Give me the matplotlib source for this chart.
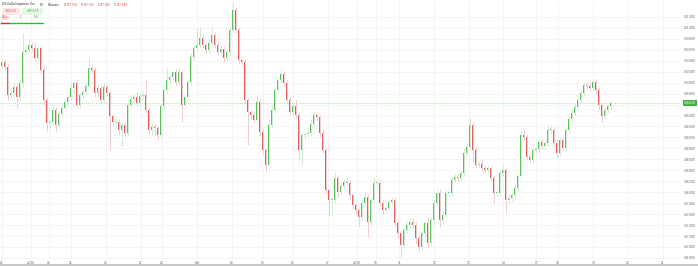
import matplotlib
matplotlib.use("Agg")
import matplotlib.pyplot as plt
from matplotlib.patches import Rectangle
from matplotlib.lines import Line2D

# hourly-ish closes, left to right
closes = [
    150.38, 150.29, 149.77, 149.81, 149.92, 149.74, 149.99, 150.56, 150.60, 150.69,
    150.63, 150.45, 150.63, 150.23, 149.68, 149.26, 149.28, 149.50, 149.23, 149.43,
    149.54, 149.65, 149.74, 149.90, 149.99, 149.59, 149.77, 149.83, 149.94, 150.27,
    150.23, 149.81, 149.90, 149.68, 149.92, 149.81, 149.39, 149.28, 149.28, 149.14,
    149.23, 149.08, 149.59, 149.70, 149.74, 149.63, 149.76, 149.77, 149.50, 149.14,
    149.19, 149.17, 149.04, 149.57, 149.87, 150.05, 150.10, 150.19, 150.01, 150.19,
    149.59, 149.74, 150.01, 150.47, 150.63, 150.69, 150.82, 150.69, 150.60, 150.72,
    150.87, 150.69, 150.56, 150.61, 150.45, 150.56, 150.96, 151.33, 150.96, 150.41,
    150.38, 149.68, 149.46, 149.41, 149.32, 149.65, 149.10, 148.77, 148.50, 149.23,
    149.50, 149.87, 150.05, 150.16, 149.99, 149.68, 149.46, 149.57, 149.41, 148.77,
    149.04, 149.06, 149.08, 149.25, 149.41, 149.37, 149.08, 148.77, 148.04, 147.86,
    147.86, 148.26, 148.00, 148.11, 148.19, 148.17, 147.95, 147.77, 147.67, 147.55,
    147.80, 147.91, 147.46, 147.86, 148.17, 148.17, 147.80, 147.67, 147.71, 147.82,
    147.86, 147.44, 147.25, 147.04, 147.31, 147.40, 147.46, 147.40, 147.16, 147.00,
    147.25, 147.44, 147.07, 147.49, 147.80, 147.99, 147.49, 147.58, 147.99, 147.99,
    148.22, 148.28, 148.26, 148.35, 148.72, 148.83, 149.23, 148.77, 148.50, 148.52,
    148.44, 148.41, 148.44, 148.26, 147.99, 147.99, 148.35, 148.41, 147.86, 147.89,
    147.95, 148.08, 148.30, 149.04, 149.01, 148.64, 148.59, 148.77, 148.79, 148.92,
    148.84, 148.90, 149.14, 149.14, 148.90, 148.72, 148.95, 148.81, 149.14, 149.34,
    149.45, 149.56, 149.68, 149.81, 149.96, 149.94, 149.90, 150.01, 149.87, 149.59,
    149.39, 149.50, 149.57, 149.63,
]
first_open = 150.30

upper_wick = [
    0.05, 0.04, 0.06, 0.05, 0.08, 0.05, 0.06, 0.35, 0.08, 0.10,
    0.06, 0.12, 0.05, 0.04, 0.05, 0.06, 0.04, 0.08, 0.05, 0.06,
    0.05, 0.06, 0.04, 0.08, 0.05, 0.07, 0.06, 0.05, 0.06, 0.20,
    0.06, 0.05, 0.08, 0.05, 0.10, 0.06, 0.05, 0.04, 0.06, 0.05,
    0.06, 0.05, 0.12, 0.08, 0.06, 0.10, 0.05, 0.07, 0.28, 0.05,
    0.06, 0.05, 0.04, 0.06, 0.08, 0.22, 0.06, 0.05, 0.06, 0.08,
    0.05, 0.06, 0.05, 0.08, 0.06, 0.30, 0.20, 0.05, 0.06, 0.08,
    0.15, 0.06, 0.05, 0.08, 0.06, 0.05, 0.08, 0.14, 0.05, 0.06,
    0.05, 0.06, 0.04, 0.05, 0.08, 0.10, 0.05, 0.04, 0.06, 0.10,
    0.08, 0.06, 0.05, 0.10, 0.06, 0.05, 0.06, 0.08, 0.12, 0.06,
    0.05, 0.06, 0.05, 0.08, 0.06, 0.05, 0.04, 0.06, 0.05, 0.04,
    0.05, 0.10, 0.06, 0.05, 0.06, 0.08, 0.05, 0.04, 0.06, 0.05,
    0.06, 0.08, 0.05, 0.06, 0.10, 0.05, 0.06, 0.05, 0.04, 0.06,
    0.05, 0.06, 0.04, 0.05, 0.06, 0.05, 0.08, 0.06, 0.05, 0.06,
    0.05, 0.06, 0.08, 0.05, 0.06, 0.05, 0.06, 0.08, 0.05, 0.06,
    0.05, 0.06, 0.05, 0.06, 0.08, 0.06, 0.12, 0.05, 0.06, 0.05,
    0.06, 0.05, 0.06, 0.04, 0.05, 0.06, 0.05, 0.08, 0.05, 0.06,
    0.05, 0.06, 0.05, 0.06, 0.10, 0.05, 0.06, 0.05, 0.06, 0.05,
    0.06, 0.05, 0.08, 0.06, 0.05, 0.06, 0.05, 0.06, 0.05, 0.06,
    0.05, 0.06, 0.05, 0.06, 0.05, 0.06, 0.08, 0.05, 0.06, 0.05,
    0.06, 0.05, 0.04, 0.05,
]
lower_wick = [
    0.05, 0.06, 0.08, 0.05, 0.06, 0.20, 0.05, 0.06, 0.05, 0.04,
    0.05, 0.06, 0.05, 0.06, 0.08, 0.15, 0.10, 0.06, 0.12, 0.05,
    0.06, 0.05, 0.06, 0.05, 0.10, 0.06, 0.05, 0.06, 0.05, 0.04,
    0.06, 0.08, 0.05, 0.06, 0.05, 0.06, 0.62, 0.08, 0.06, 0.10,
    0.30, 0.08, 0.05, 0.06, 0.05, 0.06, 0.05, 0.06, 0.05, 0.08,
    0.10, 0.12, 0.08, 0.05, 0.06, 0.05, 0.06, 0.05, 0.06, 0.05,
    0.30, 0.06, 0.05, 0.06, 0.05, 0.04, 0.05, 0.06, 0.05, 0.06,
    0.05, 0.06, 0.05, 0.06, 0.08, 0.05, 0.06, 0.05, 0.06, 0.05,
    0.06, 0.05, 0.60, 0.08, 0.06, 0.05, 0.08, 0.06, 0.13, 0.06,
    0.05, 0.06, 0.05, 0.06, 0.05, 0.06, 0.05, 0.06, 0.05, 0.18,
    0.25, 0.06, 0.05, 0.06, 0.05, 0.06, 0.08, 0.06, 0.08, 0.30,
    0.30, 0.06, 0.08, 0.05, 0.06, 0.05, 0.06, 0.08, 0.06, 0.19,
    0.06, 0.05, 0.28, 0.08, 0.05, 0.06, 0.05, 0.06, 0.05, 0.06,
    0.05, 0.06, 0.08, 0.22, 0.06, 0.05, 0.06, 0.05, 0.08, 0.10,
    0.06, 0.05, 0.09, 0.06, 0.05, 0.06, 0.13, 0.06, 0.05, 0.06,
    0.05, 0.06, 0.05, 0.06, 0.05, 0.06, 0.05, 0.24, 0.06, 0.05,
    0.06, 0.05, 0.06, 0.05, 0.19, 0.06, 0.05, 0.06, 0.24, 0.06,
    0.05, 0.06, 0.05, 0.06, 0.05, 0.06, 0.05, 0.06, 0.05, 0.06,
    0.05, 0.06, 0.05, 0.06, 0.05, 0.10, 0.06, 0.05, 0.06, 0.05,
    0.06, 0.05, 0.06, 0.05, 0.06, 0.05, 0.06, 0.05, 0.06, 0.08,
    0.11, 0.06, 0.05, 0.06,
]

# date labels along the bottom, placed at candle index
tick_labels = ["21", "22:00", "24", "25", "26", "27", "28", "Mar", "04", "05", "06", "07",
               "22:00", "10", "11", "12", "13", "14", "17", "18", "19", "20", "21"]
tick_index = [0.2, 9.8, 15.8, 23.2, 34.8, 46.5, 53.5, 65.2, 76.8, 87.2, 97.2, 108.8,
              118.5, 124.8, 132.5, 144.2, 155.8, 167.2, 178.2, 185.5, 197.2, 208.8, 220.5]
price_ticks = [146.8 + 0.2 * k for k in range(23)]

title_parts = ["US Dollar/Japanese Yen", "\u00b7", "1H", "\u00b7", "Poloniex"]
ohlc_text = [("O", "147.904"), ("H", "147.965"), ("L", "147.830"), ("C", "147.849")]
sell_price, buy_price, spread = "149.612", "149.673", "1"

plt.rcParams["font.family"] = ["Liberation Sans", "DejaVu Sans"]
UP, DOWN = "#5cc25c", "#e25f5f"
UP_W, DOWN_W = "#c9e9c9", "#efc4c4"

fig = plt.figure(figsize=(6.98, 2.66), dpi=100)
ax = fig.add_axes([0, 7 / 266, 680 / 698, 259 / 266])

opens = [first_open] + closes[:-1]
for i, (o, c) in enumerate(zip(opens, closes)):
    up = c >= o
    hi = max(o, c) + upper_wick[i]
    lo = min(o, c) - lower_wick[i]
    ax.vlines(i, lo, hi, color=UP_W if up else DOWN_W, lw=0.6, zorder=2)
    h = max(abs(c - o), 0.012)
    ax.bar(i, h, bottom=min(o, c), width=0.62, color=UP if up else DOWN,
           linewidth=0, zorder=3)

last = closes[-1]
ax.axhline(last, color="#8fd88f", ls=(0, (1, 1.5)), lw=0.6, zorder=1)

ax.set_xlim(-0.5, 680 / 3 - 0.5)
ax.set_ylim(146.78, 151.51)
ax.set_xticks(tick_index)
ax.set_xticklabels(tick_labels)
ax.set_yticks(price_ticks)
# the label hidden behind the last-price tag is left blank
ax.set_yticklabels(["" if abs(p - last) < 0.1 else "%.3f" % p for p in price_ticks])
ax.yaxis.tick_right()
ax.tick_params(axis="both", length=0, labelsize=2.3, colors="#666666")
ax.tick_params(axis="y", pad=2.5)
ax.tick_params(axis="x", pad=1.2)
ax.grid(True, color="#f1f1f1", lw=0.5)
ax.set_axisbelow(True)
for s in ax.spines.values():
    s.set_visible(False)

# last price tag on the price scale
ax.annotate("%.3f" % last, xy=(1.0 + 4 / 680, last), xycoords=("axes fraction", "data"),
            ha="left", va="center", fontsize=2.3, color="white", zorder=10,
            annotation_clip=False,
            bbox=dict(boxstyle="square,pad=0.35", fc="#3fb43f", ec="none"))


def px(x, y):
    return x / 698, 1 - y / 266


# header text, laid out piece by piece so nothing collides
renderer = fig.canvas.get_renderer()
cursor = 2.0


def put(s, color, gap):
    global cursor
    t = fig.text(*px(cursor, 4.5), s, fontsize=2.2, color=color, va="center")
    cursor = t.get_window_extent(renderer).x1 + gap
    return t


for k, part in enumerate(title_parts):
    put(part, "#333333", 1.8 if k < len(title_parts) - 1 else 4.0)
for k, v in ohlc_text:
    put(k, "#555555", 1.0)
    put(v, "#e05050", 3.0)

# buy / sell widget
fig.add_artist(Rectangle(px(2, 14.5), 18 / 698, 6 / 266, transform=fig.transFigure,
                         fc="#fde9e9", ec="none"))
fig.add_artist(Rectangle(px(22, 14.5), 21 / 698, 6 / 266, transform=fig.transFigure,
                         fc="#e6f7e6", ec="none"))
fig.text(*px(11, 11.5), sell_price, fontsize=2.4, color="#e05050", ha="center", va="center")
fig.text(*px(32.5, 11.5), buy_price, fontsize=2.4, color="#3fae3f", ha="center", va="center")
fig.add_artist(Rectangle(px(2, 19.5), 7 / 698, 4 / 266, transform=fig.transFigure,
                         fc="#fde0e0", ec="none"))
fig.text(*px(5.5, 17.5), "SELL", fontsize=1.9, color="#d04040", ha="center", va="center")
fig.text(*px(21, 17.5), spread, fontsize=1.9, color="#555555", ha="center", va="center")
fig.text(*px(37, 17.5), "BUY", fontsize=1.9, color="#3fae3f", ha="center", va="center")
fig.add_artist(Line2D([1 / 698, 9 / 698], [1 - 23 / 266] * 2, transform=fig.transFigure,
                      color="#e02828", lw=1.0))
fig.add_artist(Line2D([10 / 698, 43 / 698], [1 - 23 / 266] * 2, transform=fig.transFigure,
                      color="#28c028", lw=1.0))

# bottom frame line
fig.add_artist(Line2D([0, 1], [0.6 / 266] * 2, transform=fig.transFigure,
                      color="#bdbdbd", lw=1.2))

fig.savefig("out.png", dpi=100, facecolor="white")
